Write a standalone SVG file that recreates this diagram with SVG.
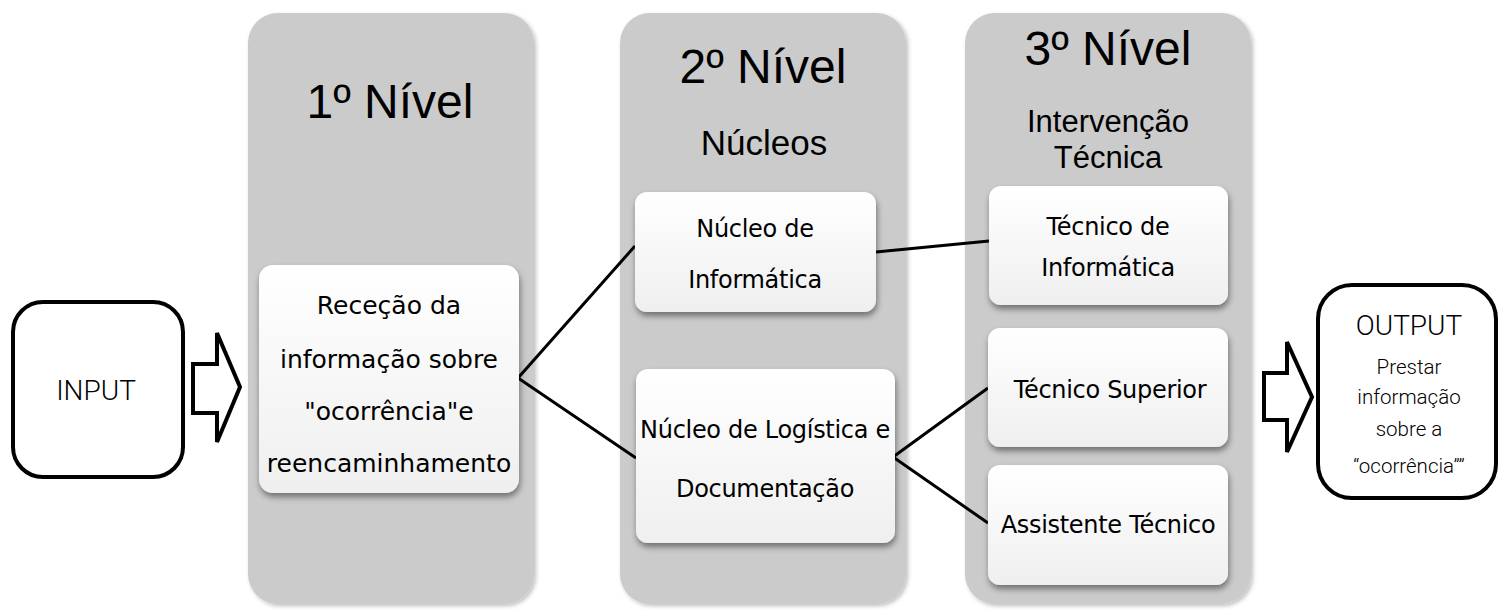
<svg xmlns="http://www.w3.org/2000/svg" width="1499" height="610" viewBox="0 0 1499 610">
<style>
.panel{fill:#cbcbcb;}
.box{fill:url(#boxg);}
.head{font-family:"Liberation Sans",Arial,sans-serif;font-size:48px;fill:#000;text-anchor:middle;}
.sub{font-family:"Liberation Sans",Arial,sans-serif;font-size:35px;fill:#000;text-anchor:middle;}
.sub2{font-family:"Liberation Sans",Arial,sans-serif;font-size:31px;fill:#000;text-anchor:middle;}
.t{font-family:"DejaVu Sans",sans-serif;font-size:24px;letter-spacing:-0.3px;fill:#000;text-anchor:middle;}
.t1{font-family:"DejaVu Sans",sans-serif;font-size:25px;fill:#000;text-anchor:middle;}
.io{fill:#fff;stroke:#000;stroke-width:4;}
.light{font-family:Roboto,"Open Sans",sans-serif;font-weight:300;fill:#000;text-anchor:middle;}
.conn{stroke:#000;stroke-width:3;fill:none;}
</style>
<defs>
<linearGradient id="boxg" x1="0" y1="0" x2="0" y2="1">
<stop offset="0" stop-color="#ffffff"/>
<stop offset="1" stop-color="#efefef"/>
</linearGradient>
<filter id="psh" x="-10%" y="-10%" width="120%" height="120%">
<feDropShadow dx="2" dy="2" stdDeviation="2" flood-color="#000" flood-opacity="0.25"/>
</filter>
<filter id="bsh" x="-10%" y="-10%" width="120%" height="130%">
<feDropShadow dx="1" dy="4" stdDeviation="3" flood-color="#000" flood-opacity="0.45"/>
</filter>
</defs>

<g id="input">
<rect class="io" x="13" y="302" width="170" height="175" rx="30"/>
<text class="light" x="96" y="400" font-size="28">INPUT</text>
</g>
<g id="arrow-in">
<polygon class="io" points="193,364 217,364 217,333 240,387 217,442 217,413 193,413"/>
</g>

<g id="level1">
<rect class="panel" x="248" y="13" width="286" height="591" rx="30" filter="url(#psh)"/>
<text class="head" x="390" y="118">1º Nível</text>
</g>
<g id="level2">
<rect class="panel" x="620" y="13" width="286" height="591" rx="30" filter="url(#psh)"/>
<text class="head" x="763" y="83">2º Nível</text>
<text class="sub" x="764" y="155">Núcleos</text>
</g>
<g id="level3">
<rect class="panel" x="965" y="13" width="286" height="591" rx="30" filter="url(#psh)"/>
<text class="head" x="1108" y="65">3º Nível</text>
<text class="sub2" x="1108" y="132">Intervenção</text>
<text class="sub2" x="1108" y="168">Técnica</text>
</g>

<g id="connectors">
<polyline class="conn" points="635,246 518,378 636,458"/>
<line class="conn" x1="876" y1="252" x2="989" y2="241"/>
<polyline class="conn" points="988,388 893,457 988,523"/>
</g>

<g id="rececao">
<rect class="box" x="259" y="265" width="260" height="228" rx="14" filter="url(#bsh)"/>
<text class="t1" x="389" y="314">Receção da</text>
<text class="t1" x="389" y="368">informação sobre</text>
<text class="t1" x="389" y="420">"ocorrência"e</text>
<text class="t1" x="389" y="472">reencaminhamento</text>
</g>
<g id="nucleo-informatica">
<rect class="box" x="635" y="192" width="241" height="120" rx="12" filter="url(#bsh)"/>
<text class="t" x="755" y="237">Núcleo de</text>
<text class="t" x="755" y="288">Informática</text>
</g>
<g id="nucleo-logistica">
<rect class="box" x="636" y="369" width="259" height="174" rx="12" filter="url(#bsh)"/>
<text class="t" x="765" y="438">Núcleo de Logística e</text>
<text class="t" x="765" y="497">Documentação</text>
</g>
<g id="tecnico-informatica">
<rect class="box" x="989" y="186" width="239" height="119" rx="12" filter="url(#bsh)"/>
<text class="t" x="1108" y="235">Técnico de</text>
<text class="t" x="1108" y="276">Informática</text>
</g>
<g id="tecnico-superior">
<rect class="box" x="988" y="328" width="240" height="119" rx="12" filter="url(#bsh)"/>
<text class="t" x="1110" y="398">Técnico Superior</text>
</g>
<g id="assistente-tecnico">
<rect class="box" x="988" y="465" width="240" height="120" rx="12" filter="url(#bsh)"/>
<text class="t" x="1108" y="533">Assistente Técnico</text>
</g>

<g id="arrow-out">
<polygon class="io" points="1264,373 1287,373 1287,342 1312,397 1287,452 1287,420 1264,420"/>
</g>
<g id="output">
<rect class="io" x="1318" y="285" width="178" height="213" rx="34"/>
<text class="light" x="1409" y="335" font-size="28">OUTPUT</text>
<text class="light" x="1409" y="374" font-size="20.5">Prestar</text>
<text class="light" x="1409" y="404" font-size="20.5">informação</text>
<text class="light" x="1409" y="436" font-size="20.5">sobre a</text>
<text class="light" x="1409" y="473" font-size="20.5">“ocorrência””</text>
</g>
</svg>
